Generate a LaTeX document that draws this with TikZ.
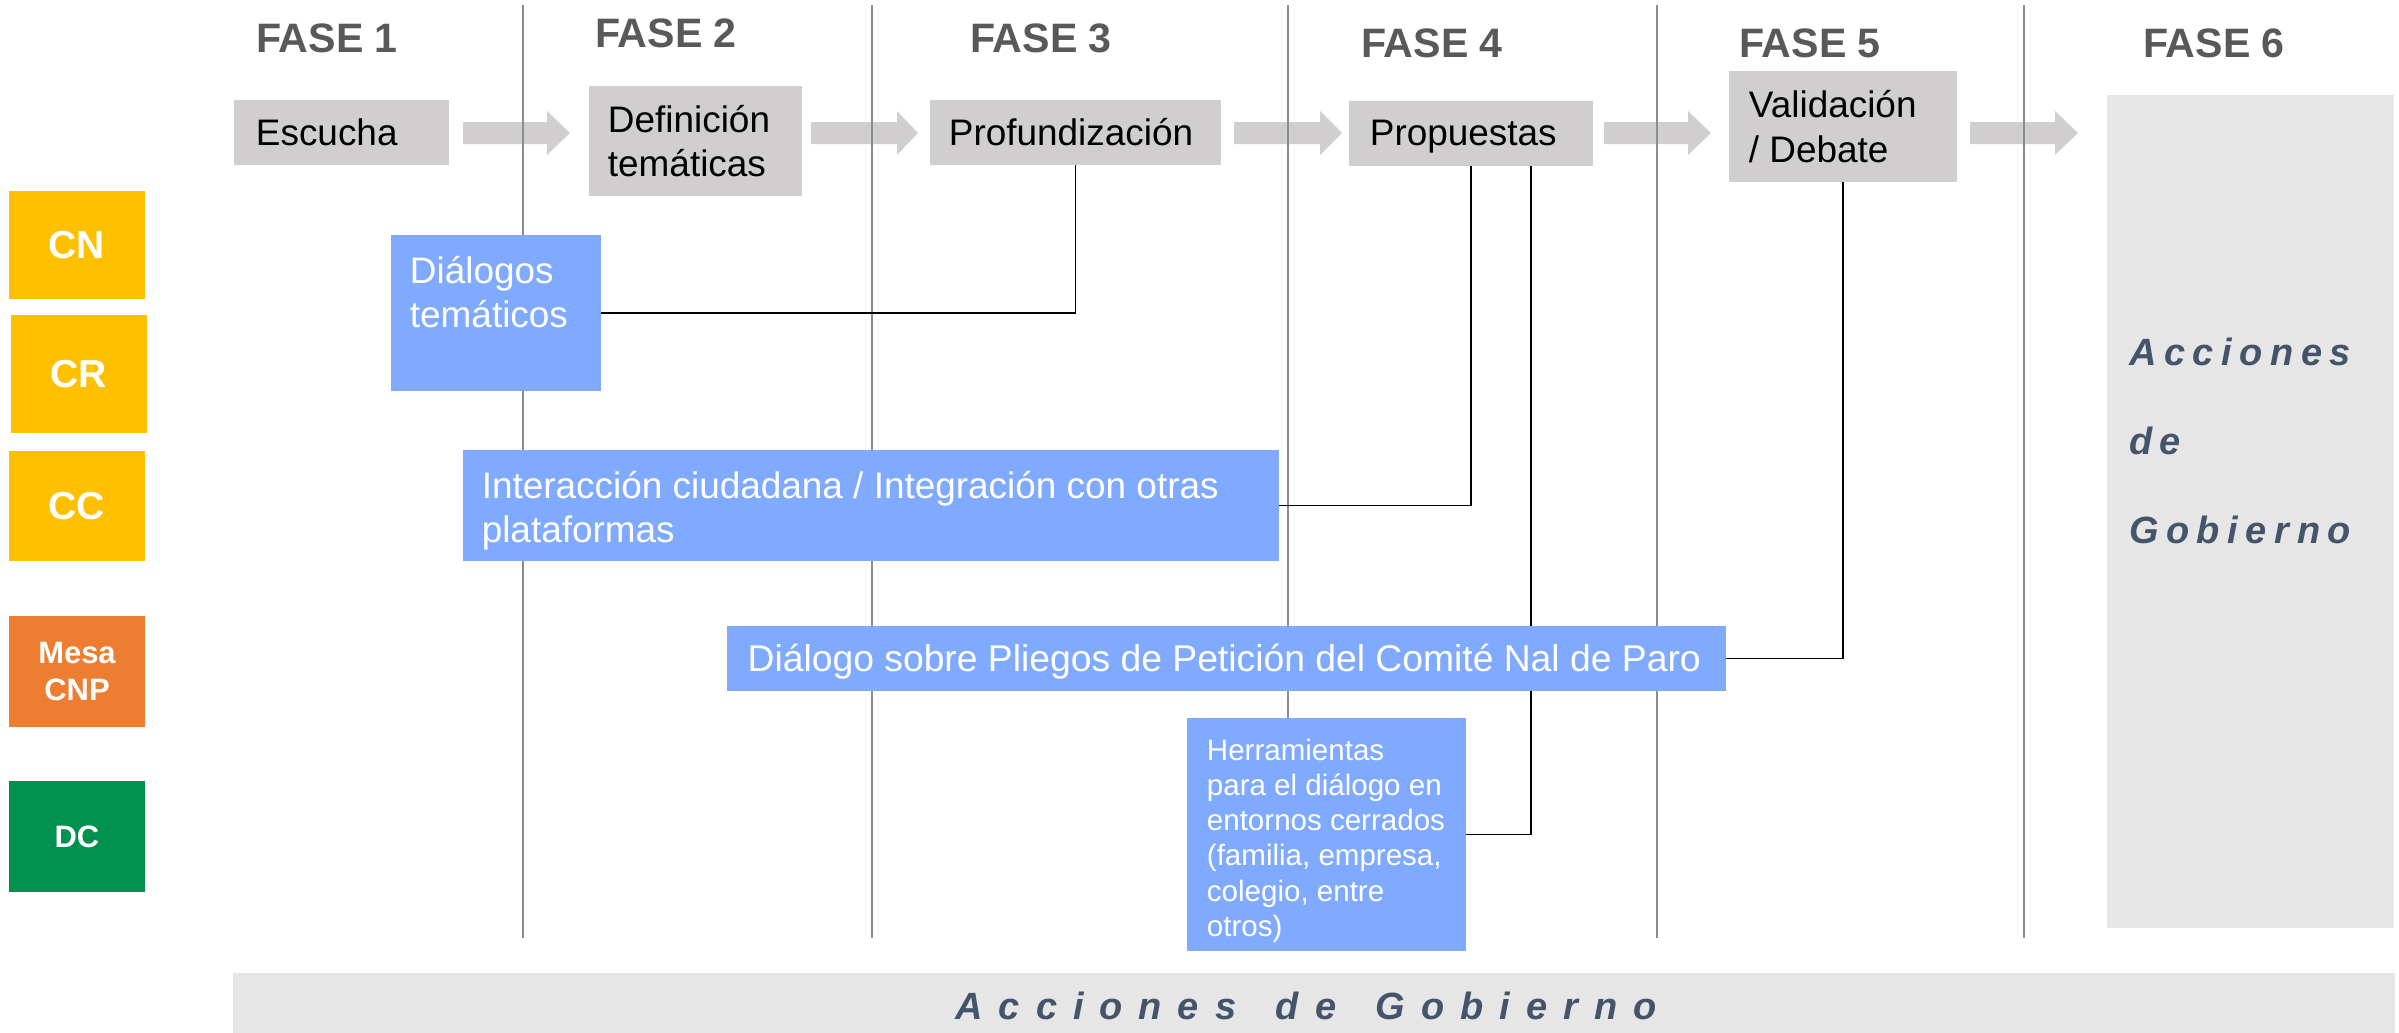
\documentclass[tikz,border=0pt]{standalone}
\usepackage{fontspec}
\setmainfont{Liberation Sans}
\newfontfamily\accA[LetterSpace=42,WordSpace=1.5]{Liberation Sans}
\newfontfamily\accB[LetterSpace=20]{Liberation Sans}
\usetikzlibrary{calc}
\definecolor{boxgray}{HTML}{D0CECE}
\definecolor{bluebox}{HTML}{80AAFF}
\definecolor{panelgray}{HTML}{E7E6E6}
\definecolor{slate}{HTML}{44546A}
\definecolor{fasegray}{HTML}{595959}
\definecolor{linegray}{HTML}{8C8C8C}
\definecolor{cyellow}{HTML}{FFC000}
\definecolor{corange}{HTML}{ED7D31}
\definecolor{cgreen}{HTML}{00914F}
\pgfdeclarelayer{bg}
\pgfdeclarelayer{wires}
\pgfsetlayers{bg,wires,main}
\begin{document}
\begin{tikzpicture}[x=0.01cm,y=-0.01cm,
  gbox/.style={fill=boxgray, draw=none, inner sep=0, outer sep=0},
  bbox/.style={fill=bluebox, draw=none, inner sep=0, outer sep=0},
  pbox/.style={fill=panelgray, draw=none, inner sep=0, outer sep=0},
  txt/.style={inner sep=0, outer sep=0, align=left, text=black, font=\fontsize{10.5}{12.6}\selectfont},
  wtxt/.style={txt, text=white},
  smalltxt/.style={inner sep=0, outer sep=0, align=left, text=white, font=\fontsize{8.4}{10}\selectfont},
  lab/.style={inner sep=0, outer sep=0, text=white, align=center, minimum width=1.36cm, font=\bfseries\fontsize{11.1}{13}\selectfont},
  smalllab/.style={lab, font=\bfseries\fontsize{8.8}{10.8}\selectfont},
  fase/.style={inner sep=0, outer sep=0, anchor=base west, text=fasegray, font=\bfseries\fontsize{11.7}{14}\selectfont},
  vline/.style={draw=linegray, line width=0.45pt},
  wire/.style={draw=black, line width=0.55pt},
  blockarrow/.style={fill=boxgray, draw=none}
]
\useasboundingbox (0,0) rectangle (2399,1033);

% phase titles
\node[fase] (f1) at (256,52) {FASE 1};
\node[fase] (f2) at (595,47) {FASE 2};
\node[fase] (f3) at (970,52) {FASE 3};
\node[fase] (f4) at (1361,57) {FASE 4};
\node[fase] (f5) at (1739,57) {FASE 5};
\node[fase] (f6) at (2143,57) {FASE 6};

% top process boxes
\node[gbox, minimum width=2.15cm, minimum height=0.65cm] (esc) at (341.5,132.5) {};
\node[gbox, minimum width=2.13cm, minimum height=1.10cm] (def) at (695.5,141) {};
\node[gbox, minimum width=2.91cm, minimum height=0.65cm] (prof) at (1075.5,132.5) {};
\node[gbox, minimum width=2.44cm, minimum height=0.65cm] (prop) at (1471,133.5) {};
\node[gbox, minimum width=2.28cm, minimum height=1.11cm] (val) at (1843,126.5) {};
\node[pbox, minimum width=2.87cm, minimum height=8.33cm] (f6box) at (2250.5,511.5) {};
\node[pbox, minimum width=21.60cm, minimum height=0.60cm] (bar) at (1314,1003) {};

% blue boxes
\node[bbox, minimum width=2.10cm, minimum height=1.56cm] (dt) at (496,313) {};
\node[bbox, minimum width=8.16cm, minimum height=1.11cm] (inter) at (871,505.5) {};
\node[bbox, minimum width=9.99cm, minimum height=0.65cm] (dsp) at (1226.5,658.5) {};
\node[bbox, minimum width=2.79cm, minimum height=2.33cm] (herr) at (1326.5,834.5) {};

% left labels
\node[lab, fill=cyellow, minimum height=1.08cm] (cn) at (77,245) {CN};
\node[lab, fill=cyellow, minimum height=1.18cm] (cr) at (79,374) {CR};
\node[lab, fill=cyellow, minimum height=1.10cm] (cc) at (77,506) {CC};
\node[smalllab, fill=corange, minimum height=1.11cm] (mesa) at (77,671.5) {Mesa\\CNP};
\node[smalllab, fill=cgreen, minimum height=1.11cm] (dc) at (77,836.5) {DC};

% texts
\node[txt, anchor=west] (escT) at ($(esc.west)+(22,0)$) {Escucha};
\node[txt, anchor=west] (defT) at ($(def.west)+(19,0)$) {Definición\\temáticas};
\node[txt, anchor=west] (profT) at ($(prof.west)+(19,0)$) {Profundización};
\node[txt, anchor=west] (propT) at ($(prop.west)+(21,3)$) {Propuestas};
\node[txt, anchor=west] (valT) at ($(val.west)+(20,0)$) {Validación\\/ Debate};
\node[wtxt, anchor=north west] (dtT) at ($(dt.north west)+(19,21)$) {Diálogos\\temáticos};
\node[wtxt, anchor=north west] (interT) at ($(inter.north west)+(19,21)$) {Interacción ciudadana / Integración con otras\\plataformas};
\node[wtxt, anchor=west, font=\fontsize{10.6}{12.6}\selectfont] (dspT) at ($(dsp.west)+(21,3)$) {Diálogo sobre Pliegos de Petición del Comité Nal de Paro};
\node[smalltxt, anchor=north west] (herrT) at ($(herr.north west)+(20,21)$) {Herramientas\\para el diálogo en\\entornos cerrados\\(familia, empresa,\\colegio, entre\\otros)};
\node[inner sep=0, outer sep=0, anchor=north west, align=left, text=slate, font=\accB\bfseries\itshape\fontsize{10.8}{25.3}\selectfont] (accS) at (2129,338) {Acciones\\de\\Gobierno};
\node[inner sep=0, outer sep=0, text=slate, font=\accA\bfseries\itshape\fontsize{10.8}{13}\selectfont] (accB) at (1306,1006) {Acciones de Gobierno};

% background: block arrows and phase separators
\begin{pgfonlayer}{bg}
\foreach \xs/\xh/\xt in {463/547/570, 811/897/918, 1234/1320/1342, 1604/1688/1711, 1970/2055/2078}{
  \fill[blockarrow] (\xs,122) -- (\xh,122) -- (\xh,111) -- (\xt,133) -- (\xh,155) -- (\xh,144) -- (\xs,144) -- cycle;
}
\foreach \xv in {523,872,1288,1657,2024}{
  \draw[vline] (\xv,5) -- (\xv,938);
}
\end{pgfonlayer}

% connectors
\begin{pgfonlayer}{wires}
\draw[wire] (prof.south) |- (dt.east);
\draw[wire] (prop.south) |- (inter.east);
\draw[wire] ($(prop.south)+(60,0)$) |- (herr.east);
\draw[wire] (val.south) |- (dsp.east);
\end{pgfonlayer}
\end{tikzpicture}
\end{document}
